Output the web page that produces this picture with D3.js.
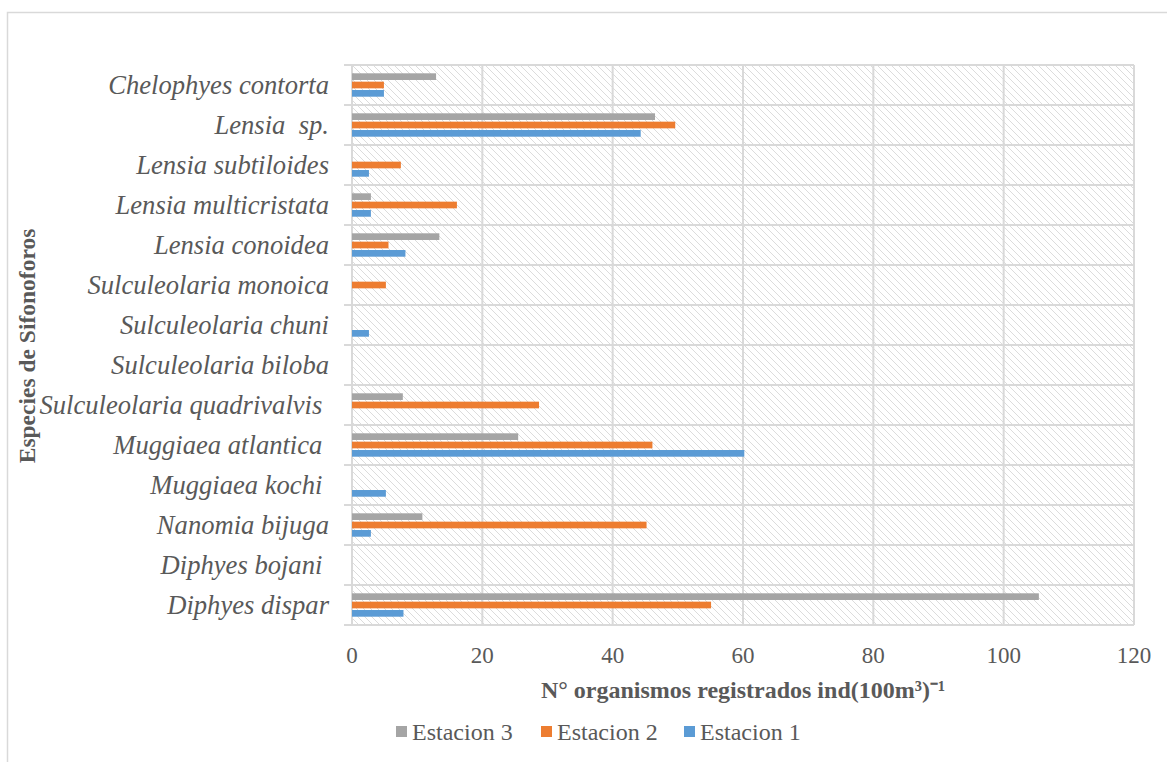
<!DOCTYPE html>
<html>
<head>
<meta charset="utf-8">
<script src="https://cdn.jsdelivr.net/npm/d3@7"></script>
<style>
  body { margin: 0; background: #fff; }
  svg { display: block; }
</style>
</head>
<body>
<svg id="chart" width="1167" height="762"></svg>
<script>
// ---- data ----
const categories = [
  "Chelophyes contorta",
  "Lensia  sp.",
  "Lensia subtiloides",
  "Lensia multicristata",
  "Lensia conoidea",
  "Sulculeolaria monoica",
  "Sulculeolaria chuni",
  "Sulculeolaria biloba",
  "Sulculeolaria quadrivalvis ",
  "Muggiaea atlantica ",
  "Muggiaea kochi ",
  "Nanomia bijuga",
  "Diphyes bojani ",
  "Diphyes dispar"
];
const seriesNames = ["Estacion 3", "Estacion 2", "Estacion 1"];
const estacion3 = [12.9, 46.5, 0, 2.9, 13.4, 0, 0, 0, 7.8, 25.5, 0, 10.8, 0, 105.4];
const estacion2 = [4.9, 49.6, 7.5, 16.1, 5.6, 5.2, 0, 0, 28.7, 46.1, 0, 45.2, 0, 55.1];
const estacion1 = [4.9, 44.3, 2.6, 2.9, 8.2, 0, 2.6, 0, 0, 60.2, 5.2, 2.9, 0, 7.9];
const xTicks = [0, 20, 40, 60, 80, 100, 120];
const colors = ["#A5A5A5", "#ED7D31", "#5B9BD5"];

const seriesValues = [estacion3, estacion2, estacion1];

// ---- layout ----
const svg = d3.select("#chart");
const pLeft = 352, pRight = 1134, pTop = 65, pBottom = 625;
const textColor = "#595959";
const gridColor = "#D9D9D9";
const serif = "'Liberation Serif', 'Times New Roman', serif";

// chart border
svg.append("rect")
  .attr("x", 7.5).attr("y", 12.5)
  .attr("width", 1300).attr("height", 900)
  .attr("fill", "#fff").attr("stroke", gridColor).attr("stroke-width", 1.5);

const x = d3.scaleLinear().domain([0, 120]).range([pLeft, pRight]);
const y = d3.scaleBand().domain(categories).range([pTop, pBottom]).padding(0);
const inner = d3.scaleBand().domain(seriesNames).paddingInner(0.2).paddingOuter(0)
  .range([y.bandwidth() / 2 - 11.7, y.bandwidth() / 2 + 11.7]);

// hatch pattern (light downward diagonal)
const defs = svg.append("defs");
const pat = defs.append("pattern")
  .attr("id", "hatch").attr("patternUnits", "userSpaceOnUse")
  .attr("width", 7).attr("height", 7);
pat.append("rect").attr("width", 7).attr("height", 7).attr("fill", "#fff");
pat.append("path")
  .attr("d", "M-1,-1 L8,8 M-4,3 L0,7 M3,-4 L11,4")
  .attr("stroke", "#DCDCDC").attr("stroke-width", 1);

svg.append("rect")
  .attr("x", pLeft).attr("y", pTop)
  .attr("width", pRight - pLeft).attr("height", pBottom - pTop)
  .attr("fill", "url(#hatch)");

// vertical gridlines
svg.append("g")
  .selectAll("line").data(xTicks).join("line")
  .attr("x1", d => x(d)).attr("x2", d => x(d))
  .attr("y1", pTop).attr("y2", pBottom)
  .attr("stroke", gridColor).attr("stroke-width", 2);

// horizontal gridlines (category boundaries) with outside ticks
const bounds = categories.map(c => y(c)).concat([pBottom]);
svg.append("g")
  .selectAll("line").data(bounds).join("line")
  .attr("x1", pLeft - 8).attr("x2", pRight)
  .attr("y1", d => d).attr("y2", d => d)
  .attr("stroke", gridColor).attr("stroke-width", 2);

// bars
seriesNames.forEach((s, si) => {
  svg.append("g")
    .selectAll("rect").data(categories.map((c, i) => ({c, v: seriesValues[si][i]})).filter(d => d.v > 0))
    .join("rect")
    .attr("x", x(0))
    .attr("y", d => y(d.c) + inner(s))
    .attr("width", d => x(d.v) - x(0))
    .attr("height", inner.bandwidth())
    .attr("fill", colors[si]);
});

// category labels
svg.append("g")
  .selectAll("text").data(categories).join("text")
  .attr("x", 329)
  .attr("y", d => y(d) + y.bandwidth() / 2)
  .attr("dy", "0.35em")
  .attr("text-anchor", "end")
  .attr("font-family", serif)
  .attr("font-style", "italic")
  .attr("font-size", 26.6)
  .attr("fill", textColor)
  .style("white-space", "pre")
  .attr("xml:space", "preserve")
  .text(d => d);

// x tick labels
svg.append("g")
  .selectAll("text").data(xTicks).join("text")
  .attr("x", d => x(d))
  .attr("y", 663)
  .attr("text-anchor", "middle")
  .attr("font-family", serif)
  .attr("font-size", 23)
  .attr("fill", textColor)
  .text(d => d);

// axis titles
svg.append("text")
  .attr("x", 743).attr("y", 698)
  .attr("text-anchor", "middle")
  .attr("font-family", serif)
  .attr("font-weight", "bold")
  .attr("font-size", 24)
  .attr("fill", textColor)
  .text("N° organismos registrados ind(100m³)⁻¹");

svg.append("text")
  .attr("transform", "translate(35,346) rotate(-90)")
  .attr("text-anchor", "middle")
  .attr("font-family", serif)
  .attr("font-weight", "bold")
  .attr("font-size", 23.5)
  .attr("fill", textColor)
  .text("Especies de Sifonoforos");

// legend
const legendX = [396, 541, 684];
const lg = svg.append("g").selectAll("g").data(seriesNames).join("g")
  .attr("transform", (d, i) => `translate(${legendX[i]},732)`);
lg.append("rect").attr("x", 0).attr("y", -6).attr("width", 11).attr("height", 11)
  .attr("fill", (d, i) => colors[i]);
lg.append("text").attr("x", 16).attr("y", 8)
  .attr("font-family", serif).attr("font-size", 24).attr("fill", textColor)
  .text(d => d);
</script>
</body>
</html>
